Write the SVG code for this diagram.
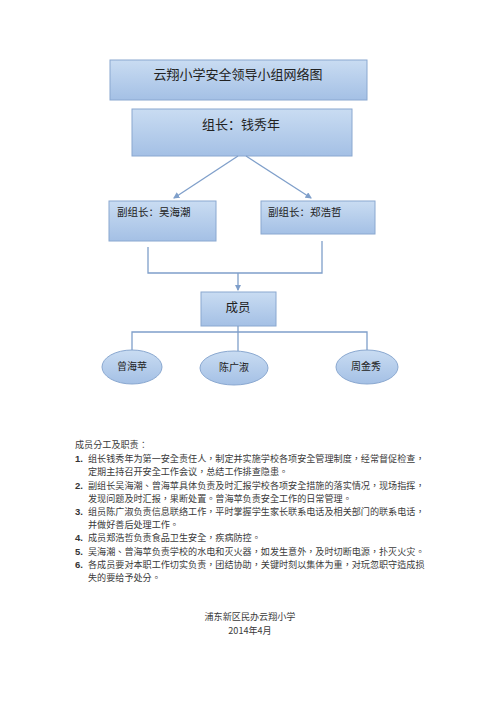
<svg xmlns="http://www.w3.org/2000/svg" width="500" height="707" viewBox="0 0 500 707">
<style>
.box{fill:url(#g);stroke:#8aa8d0;stroke-width:1}
.con{fill:none;stroke:#7f9fca;stroke-width:1.3}
.t{font-family:"Liberation Serif","Noto Sans CJK SC",serif;fill:#222}
.b{font-family:"Noto Sans CJK TC",sans-serif;font-size:9.1px;fill:#3a3a3a}
.n{font-family:"Liberation Sans",sans-serif;font-size:9.5px;font-weight:bold;fill:#333}
</style>
<defs>
<linearGradient id="g" x1="0" y1="0" x2="0" y2="1">
<stop offset="0" stop-color="#c9dcf2"/>
<stop offset="1" stop-color="#a4c0e5"/>
</linearGradient>
<marker id="a" viewBox="0 0 6 6" refX="5" refY="3" markerWidth="5" markerHeight="5" orient="auto">
<path d="M0,0L6,3L0,6z" fill="#7f9fca"/>
</marker>
</defs>
<rect width="500" height="707" fill="#fff"/>
<g id="title"><rect class="box" x="110" y="60" width="257" height="40"/><text class="t" x="238" y="79" font-size="13" text-anchor="middle">云翔小学安全领导小组网络图</text></g>
<g id="leader"><rect class="box" x="132" y="109" width="220" height="47"/><text class="t" x="241" y="129" font-size="13" text-anchor="middle">组长：钱秀年</text></g>
<g id="vice1"><rect class="box" x="109" y="201" width="107" height="40"/><text class="t" x="117" y="216" font-size="10.5">副组长：吴海潮</text></g>
<g id="vice2"><rect class="box" x="261" y="201" width="114" height="33"/><text class="t" x="268" y="216" font-size="10.5">副组长：郑浩哲</text></g>
<g id="members"><rect class="box" x="201" y="292" width="75" height="34"/><text class="t" x="238" y="312" font-size="12.5" text-anchor="middle">成员</text></g>
<g id="m1"><ellipse class="box" cx="132" cy="367" rx="30" ry="17"/><text class="t" x="132" y="370" font-size="10" text-anchor="middle">曾海苹</text></g>
<g id="m2"><ellipse class="box" cx="234" cy="368" rx="34" ry="17"/><text class="t" x="234" y="371" font-size="10" text-anchor="middle">陈广淑</text></g>
<g id="m3"><ellipse class="box" cx="367" cy="367" rx="31" ry="17"/><text class="t" x="366" y="370" font-size="10" text-anchor="middle">周金秀</text></g>
<g id="connectors">
<line class="con" x1="238" y1="156" x2="174" y2="198" marker-end="url(#a)"/>
<line class="con" x1="246" y1="156" x2="311" y2="198" marker-end="url(#a)"/>
<polyline class="con" points="148,247 148,273 322,273 322,241"/>
<line class="con" x1="238" y1="273" x2="238" y2="290" marker-end="url(#a)"/>
<polyline class="con" points="132,350 132,332 367,332 367,350"/>
<line class="con" x1="238" y1="326" x2="238" y2="351"/>
</g>
<g id="notes" lang="zh-TW">
<text class="b" x="75" y="448">成员分工及职责：</text>
<text class="n" x="75" y="462">1.</text><text class="b" x="88" y="462">组长钱秀年为第一安全责任人，制定并实施学校各项安全管理制度，经常督促检查，</text>
<text class="b" x="88" y="475">定期主持召开安全工作会议，总结工作排查隐患。</text>
<text class="n" x="75" y="489">2.</text><text class="b" x="88" y="489">副组长吴海潮、曾海苹具体负责及时汇报学校各项安全措施的落实情况，现场指挥，</text>
<text class="b" x="88" y="502">发现问题及时汇报，果断处置。曾海苹负责安全工作的日常管理。</text>
<text class="n" x="75" y="515">3.</text><text class="b" x="88" y="515">组员陈广淑负责信息联络工作，平时掌握学生家长联系电话及相关部门的联系电话，</text>
<text class="b" x="88" y="528">并做好善后处理工作。</text>
<text class="n" x="75" y="541">4.</text><text class="b" x="88" y="541">成员郑浩哲负责食品卫生安全，疾病防控。</text>
<text class="n" x="75" y="555">5.</text><text class="b" x="88" y="555">吴海潮、曾海苹负责学校的水电和灭火器，如发生意外，及时切断电源，扑灭火灾。</text>
<text class="n" x="75" y="568">6.</text><text class="b" x="88" y="568">各成员要对本职工作切实负责，团结协助，关键时刻以集体为重，对玩忽职守造成损</text>
<text class="b" x="88" y="581">失的要给予处分。</text>
<text class="b" x="250" y="620" text-anchor="middle">浦东新区民办云翔小学</text>
<text class="b" x="250" y="634" text-anchor="middle">2014年4月</text>
</g>
</svg>
